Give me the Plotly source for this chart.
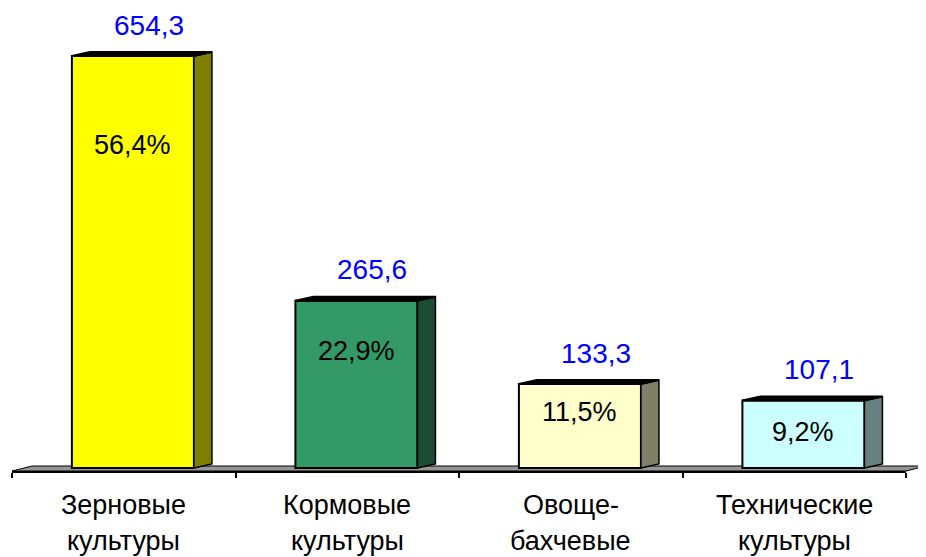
"""3D-style bar chart: crop areas with shares."""

import plotly.graph_objects as go

# --- data -------------------------------------------------------------
categories = ["Зерновые\nкультуры", "Кормовые\nкультуры", "Овоще-\nбахчевые", "Технические\nкультуры"]
values = [654.3, 265.6, 133.3, 107.1]
shares = ["56,4%", "22,9%", "11,5%", "9,2%"]

# --- style ------------------------------------------------------------
front_colors = ["#FFFF00", "#339966", "#FFFFCC", "#CCFFFF"]
side_colors = ["#808000", "#1A4D33", "#808066", "#668080"]
pct_drop = [89, 50, 28, 31]  # px below the bar top for the share label
FONT = "Liberation Sans, Arial, sans-serif"

PAGE_PAD = 8  # default body margin of the html page
W, H = 926 - PAGE_PAD, 557 - PAGE_PAD
M_L, M_R, M_T, M_B = 12 - PAGE_PAD, 0, 10 - PAGE_PAD, 85
CAT_PX = 223.5  # pixels per category
PX_PER_UNIT = 412 / 654.3
BASE_PX = 4  # y=0 sits this many px above the axis line

plot_w = W - M_L - M_R
plot_h = H - M_T - M_B
x_range = [-0.5, -0.5 + plot_w / CAT_PX]
y_min = -BASE_PX / PX_PER_UNIT
y_range = [y_min, y_min + plot_h / PX_PER_UNIT]

bar_left = -0.232
bar_w = 0.546
dx = 18 / CAT_PX  # depth of side face, x units
dy = 4 / PX_PER_UNIT  # rise of top face, y units

fig = go.Figure()

fig.add_trace(
    go.Bar(
        x=list(range(len(values))),
        y=values,
        width=bar_w,
        offset=bar_left,
        marker={"color": front_colors, "line": {"color": "black", "width": 2}},
        hoverinfo="skip",
    )
)

for i, v in enumerate(values):
    left = i + bar_left
    right = left + bar_w
    # side face
    fig.add_trace(
        go.Scatter(
            x=[right, right + dx, right + dx, right, right],
            y=[0, dy, v + dy, v, 0],
            fill="toself",
            fillcolor=side_colors[i],
            mode="lines",
            line={"color": "black", "width": 1.5},
            hoverinfo="skip",
        )
    )
    # top face
    fig.add_trace(
        go.Scatter(
            x=[left, right, right + dx, left + dx, left],
            y=[v, v, v + dy, v + dy, v],
            fill="toself",
            fillcolor="black",
            mode="lines",
            line={"color": "black", "width": 2},
            hoverinfo="skip",
        )
    )
    label = f"{v:.1f}".replace(".", ",")
    fig.add_annotation(
        x=left + bar_w / 2, y=v, text=label,
        showarrow=False, xshift=16, yshift=31, yanchor="middle",
        font={"family": FONT, "size": 28, "color": "#0000FF"},
    )
    fig.add_annotation(
        x=left + bar_w / 2, y=v, text=shares[i],
        showarrow=False, yshift=-pct_drop[i], yanchor="middle",
        font={"family": FONT, "size": 27, "color": "black"},
    )
    for j, line in enumerate(categories[i].split("\n")):
        fig.add_annotation(
            x=i, y=0, yref="paper", text=line, showarrow=False,
            yanchor="middle", yshift=-33 - 36 * j,
            font={"family": FONT, "size": 27, "color": "black"},
        )

# floor slab
floor_front = -3 / PX_PER_UNIT
floor_back = 2 / PX_PER_UNIT
fig.add_shape(
    type="path",
    xref="x", yref="y",
    path=(
        f"M {x_range[0]} {floor_front} L 3.5 {floor_front} "
        f"L {x_range[1]} {floor_back} L {x_range[0] + 20 / CAT_PX} {floor_back} Z"
    ),
    fillcolor="#969696",
    line={"color": "black", "width": 1},
    layer="below",
)
# axis line
fig.add_shape(
    type="line", xref="x", yref="paper",
    x0=-0.5, x1=3.5, y0=0, y1=0,
    line={"color": "black", "width": 2},
)

fig.update_layout(
    width=W,
    height=H,
    margin={"l": M_L, "r": M_R, "t": M_T, "b": M_B, "autoexpand": False},
    plot_bgcolor="white",
    paper_bgcolor="white",
    showlegend=False,
    font={"family": FONT},
)
fig.update_xaxes(
    range=x_range,
    tickvals=[-0.5, 0.5, 1.5, 2.5, 3.5],
    showticklabels=False,
    ticks="outside",
    ticklen=5,
    tickwidth=2,
    tickcolor="black",
    showgrid=False,
    zeroline=False,
    showline=False,
)
fig.update_yaxes(range=y_range, visible=False, showgrid=False, zeroline=False)

fig.write_html("out.html")
